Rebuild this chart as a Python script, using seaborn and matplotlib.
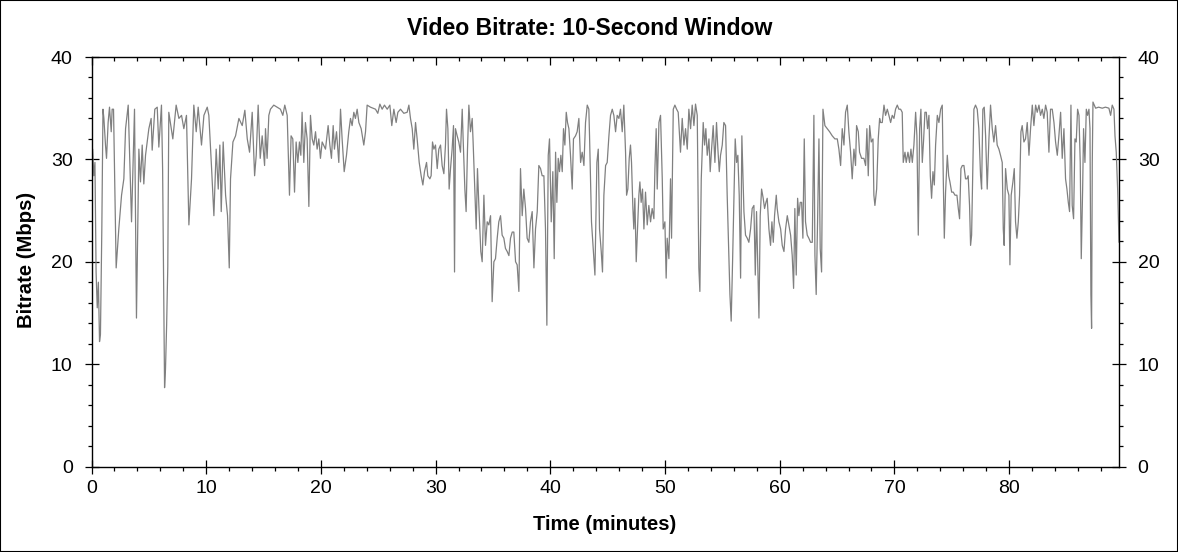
import numpy as np
import pandas as pd
import matplotlib
matplotlib.use("Agg")
import matplotlib.pyplot as plt
from matplotlib.patches import Rectangle
from matplotlib.ticker import MultipleLocator
import seaborn as sns

# ---- data (minutes, Mbps) ----
t1 = [0.0, 0.1, 0.2, 0.3, 0.4, 0.5, 0.6, 0.7, 0.78, 0.9,
      1.0, 1.08, 1.22, 1.31, 1.45, 1.57, 1.72, 1.80, 1.92, 2.15,
      2.38, 2.62, 2.82, 2.97, 3.20, 3.49, 3.75, 3.92, 4.13, 4.27,
      4.42, 4.56, 4.71, 5.0, 5.2, 5.29, 5.52, 5.73, 5.87, 6.10,
      6.2, 6.3, 6.37, 6.45, 6.55, 6.65, 6.74, 7.09, 7.38, 7.62,
      7.85, 8.05, 8.28, 8.49, 8.72, 8.92, 9.13, 9.30, 9.59, 9.80,
      10.09, 10.23, 10.47, 10.67, 10.87, 11.05, 11.19, 11.31, 11.48, 11.69,
      11.86, 12.01, 12.12, 12.33, 12.56, 12.85, 13.14, 13.37, 13.58, 13.78,
      14.01, 14.22, 14.36, 14.53, 14.71, 14.88, 15.09]
v1 = [29.7, 31.0, 28.4, 29.7, 19.0, 15.5, 18.0, 12.2, 12.9, 23.2,
      34.9, 34.0, 31.4, 30.1, 33.6, 35.1, 32.7, 34.9, 34.9, 19.4,
      23.2, 26.5, 28.1, 33.0, 35.3, 23.9, 34.9, 14.5, 31.0, 27.8,
      31.4, 27.6, 30.4, 33.0, 34.0, 30.9, 34.9, 35.1, 31.2, 35.3,
      29.0, 17.0, 7.7, 9.5, 13.8, 19.5, 34.6, 32.0, 35.3, 34.0,
      34.3, 33.0, 34.3, 23.6, 28.1, 35.3, 32.7, 35.1, 31.4, 34.3,
      35.1, 34.3, 29.1, 24.5, 31.0, 27.1, 31.4, 24.9, 31.7, 26.5,
      24.5, 19.4, 28.1, 31.7, 32.3, 34.0, 33.3, 34.8, 32.0, 30.7,
      34.6, 28.4, 30.4, 35.3, 30.1, 32.3, 29.4]

t2 = [15.17, 15.31, 15.46, 15.60, 15.89, 16.18, 16.47, 16.68, 16.85, 17.06,
      17.26, 17.40, 17.55, 17.70, 17.84, 17.99, 18.13, 18.25, 18.36, 18.51,
      18.65, 18.80, 18.95, 19.09, 19.24, 19.38, 19.53, 19.67, 19.82, 19.96,
      20.11, 20.40, 20.63, 20.78, 20.92, 21.07, 21.18, 21.36, 21.56, 21.71,
      21.85, 22.03, 22.23, 22.43, 22.58, 22.72, 22.87, 23.01, 23.16, 23.31,
      23.51, 23.74, 23.89, 24.03, 24.32, 24.76, 24.96, 25.14, 25.34, 25.54,
      25.78, 26.01, 26.18, 26.36, 26.56, 26.71, 26.94, 27.23, 27.52, 27.67,
      27.81, 27.96, 28.10, 28.25, 28.39, 28.57, 28.74, 28.89, 29.03, 29.21,
      29.32, 29.50, 29.61, 29.73, 29.85, 29.99, 30.14, 30.28]
v2 = [33.0, 30.1, 34.3, 34.9, 35.3, 35.1, 34.9, 34.3, 35.3, 34.3,
      26.5, 32.3, 32.0, 26.8, 31.7, 29.7, 31.7, 30.4, 34.6, 29.7,
      33.6, 32.0, 25.4, 34.3, 32.0, 31.4, 32.7, 31.0, 32.0, 30.1,
      31.7, 31.0, 33.3, 31.4, 30.1, 33.3, 31.0, 32.7, 29.7, 34.9,
      32.0, 28.8, 30.4, 32.7, 34.0, 33.3, 34.6, 34.0, 34.9, 33.6,
      33.0, 31.4, 32.7, 35.3, 35.1, 34.9, 34.5, 35.4, 34.9, 35.3,
      34.9, 35.3, 33.3, 34.9, 33.6, 34.6, 34.9, 34.5, 34.6, 35.3,
      34.0, 33.0, 31.0, 33.6, 32.0, 29.7, 28.4, 27.5, 28.8, 29.7,
      28.4, 28.1, 28.4, 31.7, 31.0, 31.4, 29.1, 31.0]

t3 = [30.43, 30.57, 30.72, 30.86, 30.95, 31.07, 31.18, 31.30, 31.44, 31.56,
      31.65, 31.73, 31.88, 32.02, 32.17, 32.32, 32.40, 32.55, 32.66, 32.78,
      32.90, 33.04, 33.19, 33.27, 33.42, 33.54, 33.65, 33.77, 33.94, 34.06,
      34.21, 34.35, 34.50, 34.64, 34.79, 34.93, 35.08, 35.22, 35.37, 35.51,
      35.66, 35.80, 35.95, 36.09, 36.24, 36.39, 36.53, 36.68, 36.82, 36.97,
      37.11, 37.26, 37.40, 37.55, 37.69, 37.84, 37.98, 38.13, 38.27, 38.42,
      38.57, 38.71, 38.86, 39.00, 39.15, 39.29, 39.44, 39.58, 39.70, 39.82,
      39.93, 40.08, 40.22, 40.34, 40.46, 40.57, 40.69, 40.80, 40.92, 41.04,
      41.15, 41.27, 41.39, 41.50, 41.62, 41.76, 41.91, 42.02, 42.20, 42.34,
      42.49, 42.64, 42.78, 42.93, 43.07, 43.22, 43.36, 43.42, 43.59, 43.74,
      43.89, 44.06, 44.18, 44.29, 44.44, 44.55, 44.67, 44.82, 44.96, 45.11,
      45.25, 45.40, 45.54]
v3 = [31.4, 29.4, 28.6, 31.4, 34.9, 33.0, 27.1, 29.1, 31.0, 33.3,
      19.0, 33.0, 32.3, 31.7, 30.7, 34.9, 32.0, 27.1, 24.9, 31.0,
      35.3, 32.7, 34.0, 31.7, 27.1, 23.2, 29.1, 25.5, 21.0, 20.0,
      26.5, 21.6, 23.9, 23.6, 24.5, 16.1, 20.0, 20.3, 22.3, 23.9,
      24.5, 22.6, 22.3, 21.3, 21.0, 20.6, 22.3, 22.9, 22.9, 20.0,
      19.7, 17.1, 29.1, 24.5, 27.1, 25.2, 22.3, 21.9, 23.9, 24.9,
      19.4, 23.2, 24.9, 29.4, 29.1, 28.4, 28.4, 23.2, 13.8, 30.4,
      32.0, 23.9, 28.8, 20.3, 30.7, 25.8, 30.1, 28.8, 30.4, 28.8,
      33.0, 31.4, 34.6, 33.6, 33.0, 30.4, 27.1, 32.0, 32.3, 32.7,
      34.0, 29.7, 30.7, 29.4, 33.6, 35.3, 34.9, 32.3, 23.9, 21.3,
      18.7, 29.7, 31.0, 23.2, 21.0, 19.0, 26.5, 29.4, 29.7, 32.3,
      34.3, 34.9, 34.3]

t4 = [45.69, 45.83, 45.98, 46.12, 46.27, 46.41, 46.56, 46.65, 46.76, 46.88,
      46.99, 47.08, 47.20, 47.28, 47.37, 47.49, 47.58, 47.72, 47.81, 47.92,
      48.04, 48.16, 48.30, 48.45, 48.59, 48.74, 48.88, 49.03, 49.12, 49.23,
      49.32, 49.47, 49.61, 49.76, 49.84, 49.99, 50.10, 50.19, 50.34, 50.48,
      50.57, 50.72, 50.86, 51.01, 51.15, 51.35, 51.50, 51.65, 51.79, 51.94,
      52.08, 52.23, 52.37, 52.52, 52.66, 52.81, 52.95, 53.04, 53.16, 53.33,
      53.45, 53.56, 53.68, 53.83, 53.94, 54.06, 54.20, 54.35, 54.49, 54.61,
      54.73, 54.84, 54.99, 55.13, 55.28, 55.42, 55.54, 55.66, 55.77, 55.89,
      56.01, 56.12, 56.24, 56.35, 56.47, 56.59, 56.70, 56.79, 56.88, 57.02,
      57.17, 57.31, 57.46, 57.60, 57.75, 57.87, 57.98, 58.10, 58.19, 58.30,
      58.42, 58.56, 58.68, 58.80, 58.91, 59.06, 59.20, 59.32, 59.44, 59.55,
      59.70, 59.78, 59.93, 60.08, 60.22, 60.37, 60.51, 60.66, 60.80]
v4 = [32.7, 34.3, 34.0, 34.9, 32.7, 35.3, 30.7, 26.5, 27.1, 30.1,
      31.4, 29.7, 25.2, 23.2, 26.2, 20.0, 22.6, 26.5, 27.8, 25.8,
      27.1, 23.2, 26.8, 23.6, 25.5, 23.9, 25.2, 24.2, 29.1, 33.0,
      27.1, 33.6, 34.3, 28.1, 23.2, 23.9, 18.4, 22.3, 20.3, 28.1,
      22.3, 34.9, 35.3, 34.9, 34.6, 30.7, 34.0, 31.4, 33.0, 31.0,
      34.9, 33.0, 35.3, 33.3, 35.4, 34.3, 19.4, 17.1, 28.1, 33.6,
      31.4, 33.0, 30.4, 32.0, 28.8, 31.0, 33.3, 29.7, 33.6, 31.0,
      28.8, 30.4, 31.4, 33.6, 33.3, 26.5, 21.6, 16.8, 14.2, 20.0,
      26.5, 32.0, 29.7, 30.4, 26.5, 18.4, 32.3, 28.4, 24.9, 22.6,
      22.3, 21.9, 23.2, 25.2, 25.5, 18.7, 24.9, 18.7, 14.5, 24.5,
      27.1, 26.2, 25.2, 25.8, 26.2, 23.2, 21.6, 23.9, 21.9, 24.5,
      26.5, 25.2, 23.9, 23.2, 21.6, 21.0, 23.2, 24.5, 23.6]

t5 = [60.95, 61.09, 61.21, 61.32, 61.44, 61.56, 61.67, 61.79, 61.91, 62.02,
      62.14, 62.25, 62.40, 62.54, 62.69, 62.84, 62.98, 63.07, 63.18, 63.30,
      63.42, 63.53, 63.65, 63.77, 63.94, 64.14, 64.35, 64.58, 64.81, 65.02,
      65.16, 65.31, 65.45, 65.60, 65.74, 65.89, 66.03, 66.18, 66.32, 66.47,
      66.61, 66.70, 66.85, 66.96, 67.14, 67.34, 67.49, 67.60, 67.72, 67.84,
      67.98, 68.13, 68.21, 68.30, 68.45, 68.59, 68.71, 68.79, 68.94, 69.09,
      69.23, 69.38, 69.52, 69.67, 69.81, 69.96, 70.10, 70.25, 70.39, 70.54,
      70.68, 70.77, 70.92, 71.03, 71.18, 71.32, 71.44, 71.56, 71.70, 71.85,
      71.96, 72.08, 72.20, 72.31, 72.43, 72.55, 72.66, 72.78, 72.89, 73.01,
      73.13, 73.24, 73.36, 73.48, 73.59, 73.74, 73.88, 74.03, 74.17, 74.26,
      74.35, 74.46, 74.61, 74.73, 74.84, 74.99, 75.13, 75.28, 75.45, 75.57,
      75.68, 75.80, 75.92, 76.06]
v5 = [22.6, 20.6, 17.4, 25.2, 18.7, 26.2, 24.5, 25.8, 25.8, 22.3,
      32.0, 23.9, 22.6, 22.3, 21.9, 21.9, 34.3, 20.6, 16.8, 23.9,
      32.0, 21.3, 19.0, 34.9, 33.3, 33.0, 32.7, 32.3, 32.0, 32.0,
      31.0, 29.4, 33.0, 31.4, 34.6, 35.3, 32.7, 30.7, 28.1, 31.0,
      29.4, 33.3, 32.7, 30.7, 30.1, 30.1, 29.4, 33.0, 28.4, 33.3,
      31.7, 32.0, 26.5, 25.5, 27.1, 32.0, 34.0, 33.6, 33.6, 35.3,
      34.3, 34.9, 34.3, 33.6, 34.3, 34.0, 34.9, 35.3, 34.9, 34.9,
      34.6, 29.7, 30.7, 29.7, 30.7, 29.7, 31.0, 29.7, 31.4, 34.6,
      32.3, 22.6, 33.0, 34.9, 29.7, 32.0, 34.6, 34.6, 33.0, 34.3,
      28.4, 26.2, 28.8, 27.5, 31.4, 34.3, 33.6, 34.9, 35.3, 28.1,
      22.3, 26.8, 30.4, 28.4, 27.8, 26.8, 26.8, 26.5, 26.5, 25.2,
      24.2, 29.1, 29.4, 29.4]

t6 = [76.20, 76.32, 76.43, 76.55, 76.64, 76.73, 76.84, 76.93, 77.07, 77.22,
      77.36, 77.51, 77.60, 77.71, 77.83, 77.95, 78.09, 78.24, 78.38, 78.53,
      78.67, 78.82, 78.96, 79.11, 79.25, 79.40, 79.49, 79.57, 79.69, 79.84,
      79.98, 80.07, 80.18, 80.33, 80.45, 80.56, 80.68, 80.80, 80.91, 81.03,
      81.14, 81.29, 81.43, 81.58, 81.73, 81.87, 82.02, 82.16, 82.31, 82.45,
      82.60, 82.74, 82.89, 83.03, 83.18, 83.32, 83.47, 83.61, 83.76, 83.91,
      84.05, 84.20, 84.34, 84.49, 84.63, 84.78, 84.92, 85.04, 85.16, 85.27,
      85.39, 85.50, 85.62, 85.74, 85.85, 85.97, 86.09, 86.20, 86.29, 86.41,
      86.49, 86.61, 86.73, 86.84, 86.96, 87.05, 87.13, 87.19, 87.25, 87.31,
      87.54, 87.80, 88.12, 88.40, 88.70, 88.85, 88.99, 89.14, 89.23, 89.34,
      89.46, 89.58]
v6 = [28.1, 28.1, 28.4, 25.5, 21.6, 22.6, 29.7, 34.9, 35.3, 34.9,
      33.0, 28.4, 27.1, 34.9, 35.1, 32.3, 27.1, 32.0, 35.3, 33.0,
      31.7, 33.3, 31.4, 31.0, 30.4, 29.7, 23.2, 21.6, 29.1, 27.1,
      26.5, 19.7, 26.5, 27.8, 29.1, 23.9, 22.3, 23.9, 26.5, 32.7,
      33.3, 31.7, 32.0, 33.6, 30.4, 33.0, 35.3, 33.3, 35.3, 34.6,
      35.3, 34.3, 34.9, 34.0, 35.3, 34.6, 30.7, 34.9, 34.9, 33.6,
      31.7, 30.4, 32.3, 34.6, 30.1, 33.0, 28.1, 27.1, 25.8, 24.9,
      35.3, 25.5, 24.2, 32.0, 31.7, 34.9, 34.3, 29.7, 20.3, 27.1,
      33.0, 29.7, 34.9, 34.3, 34.9, 33.0, 16.8, 13.5, 29.7, 35.6,
      35.0, 35.1, 35.0, 35.1, 35.0, 34.3, 35.3, 34.9, 32.3, 30.7,
      27.1, 21.9]

x_ticks = [0, 10, 20, 30, 40, 50, 60, 70, 80]
y_ticks = [0, 10, 20, 30, 40]
title = "Video Bitrate: 10-Second Window"
x_label = "Time (minutes)"
y_label = "Bitrate (Mbps)"

df = pd.DataFrame({
    "minutes": t1 + t2 + t3 + t4 + t5 + t6,
    "mbps": v1 + v2 + v3 + v4 + v5 + v6,
})

# ---- style ----
sns.set_theme(style="white")
plt.rcParams["font.family"] = ["Liberation Sans", "DejaVu Sans"]
plt.rcParams["text.color"] = "black"
plt.rcParams["axes.labelcolor"] = "black"
plt.rcParams["xtick.color"] = "black"
plt.rcParams["ytick.color"] = "black"

W, H = 1178, 552
fig = plt.figure(figsize=(W / 100, H / 100), dpi=100)
fig.patch.set_facecolor("white")
L, R, T, B = 91.5, 1119.0, 57.0, 466.5
ax = fig.add_axes([L / W, 1 - B / H, (R - L) / W, (B - T) / H])
ax.set_facecolor("white")

sns.lineplot(data=df, x="minutes", y="mbps", ax=ax, color="#808080",
             linewidth=0.9, sort=False, estimator=None)

ax.set_xlim(0, 89.58)
ax.set_ylim(0, 40)
ax.set_xticks(x_ticks)
ax.set_yticks(y_ticks)
ax.xaxis.set_minor_locator(MultipleLocator(2))
ax.yaxis.set_minor_locator(MultipleLocator(2))
ax.set_xlabel("")
ax.set_ylabel("")

for s in ax.spines.values():
    s.set_visible(True)
    s.set_color("black")
    s.set_linewidth(1.0)

ax.tick_params(axis="both", which="major", direction="inout", length=10,
               width=0.9, labelsize=14, pad=5)
ax.tick_params(axis="both", which="minor", direction="out", length=3.2,
               width=0.9)
ax.tick_params(axis="y", which="both", left=True, right=True,
               labelleft=True, labelright=True)
ax.tick_params(axis="x", which="both", bottom=True, top=False)
ax.tick_params(axis="y", which="major", pad=8.5)

# top axis: inward ticks only
sec = ax.secondary_xaxis("top")
sec.set_xticks(x_ticks)
sec.xaxis.set_minor_locator(MultipleLocator(2))
sec.tick_params(axis="x", which="major", direction="in", length=5.8,
                width=0.9, labeltop=False)
sec.tick_params(axis="x", which="minor", direction="in", length=3.2,
                width=0.9)
sec.spines["top"].set_visible(False)

fig.text(590 / W, 1 - 34.7 / H, title, ha="center", va="baseline",
         fontsize=16.6, fontweight="bold")
fig.text(605 / W, 1 - 530 / H, x_label, ha="center", va="baseline",
         fontsize=14.6, fontweight="bold")
fig.text(27 / W, 1 - 260 / H, y_label, ha="center", va="center",
         rotation=90, fontsize=14.6, fontweight="bold")

fig.patches.append(Rectangle((0, 0), 1, 1, transform=fig.transFigure,
                             fill=False, edgecolor="black", linewidth=1.5))

fig.savefig("out.png", dpi=100, facecolor="white")
